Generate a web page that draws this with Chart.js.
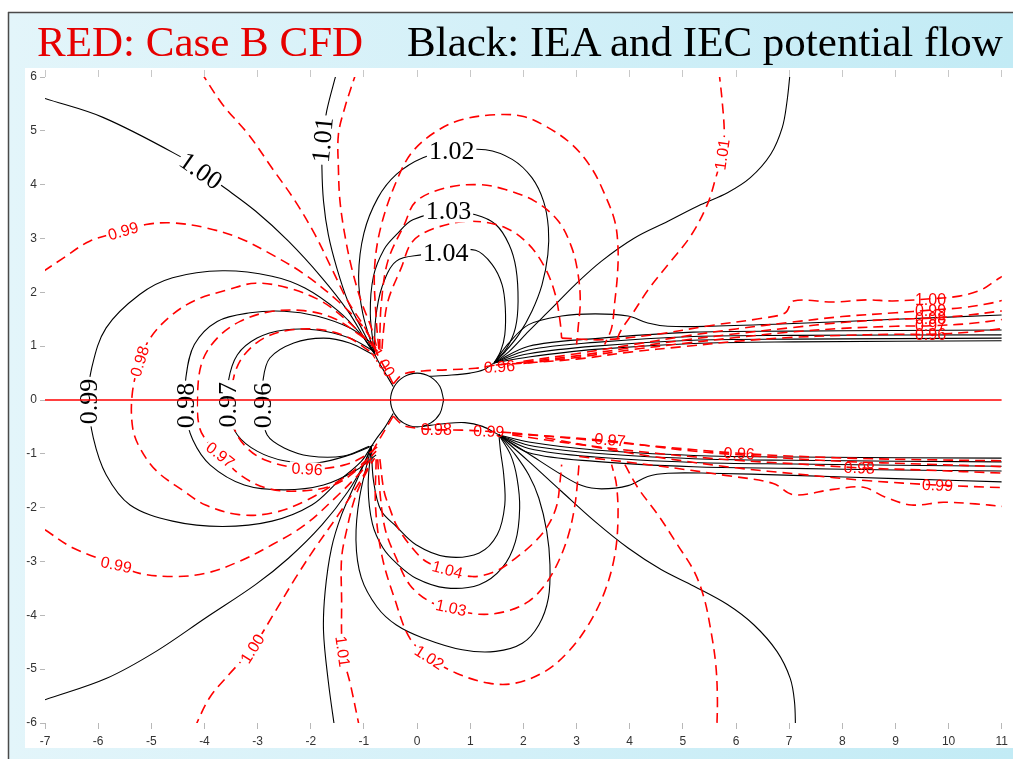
<!DOCTYPE html>
<html>
<head>
<meta charset="utf-8">
<script src="https://cdn.jsdelivr.net/npm/chart.js@4.4.1/dist/chart.umd.min.js"></script>
<style>
  body { margin: 0; background: #fff; }
  #wrap { position: relative; width: 1013px; height: 759px; }
  #plot { position: absolute; left: 0; top: 0; }
  .ttl { position: absolute; top: 20px; font-family: "Liberation Serif", serif; font-size: 43px; line-height: 43px; white-space: nowrap; }
</style>
</head>
<body>
<div id="wrap">
  <canvas id="plot" width="1013" height="759"></canvas>
  <div class="ttl" style="left:37px;color:#e60000">RED: Case B CFD</div>
  <div class="ttl" style="left:407px;color:#000">Black: IEA and IEC potential flow</div>
</div>
<script>
// --- axis ranges / ticks ---
const xRange = [-7, 11];
const yRange = [-6, 6];
const zeroLineX = [-7, 11];

// --- Black: potential flow contours ---
const pf100Up = [[-7.0,5.60],[-5.91,5.25],[-4.47,4.53],[-4.07,4.26],[-3.66,3.97],[-3.04,3.51],[-2.42,2.95],[-1.79,2.27],[-1.30,1.65],[-0.95,1.08],[-0.80,0.86]];
const pf101UpL = [[-1.51,6.1],[-1.70,5.37],[-1.78,4.83],[-1.79,4.31],[-1.76,3.69],[-1.67,3.07],[-1.51,2.45],[-1.30,1.83],[-1.05,1.34],[-0.80,0.86]];
const pf102Up = [[-0.80,0.86],[-1.02,1.6],[-1.10,2.3],[-1.0,3.1],[-0.74,3.75],[-0.39,4.19],[0.11,4.50],[0.65,4.62],[1.29,4.65],[1.79,4.47],[2.16,4.13],[2.38,3.69],[2.47,3.20],[2.46,2.70],[2.35,2.14],[2.16,1.65],[1.91,1.21],[1.66,0.90],[1.45,0.69]];
const pf103Up = [[-0.80,0.86],[-0.88,1.6],[-0.82,2.3],[-0.62,2.8],[-0.39,3.07],[-0.08,3.35],[0.59,3.50],[1.10,3.44],[1.48,3.26],[1.73,2.89],[1.86,2.45],[1.90,1.83],[1.85,1.34],[1.69,0.97],[1.45,0.69]];
const pf104Up = [[-0.80,0.86],[-0.78,1.5],[-0.66,2.1],[-0.39,2.58],[0.11,2.70],[0.54,2.76],[1.10,2.78],[1.41,2.52],[1.60,2.14],[1.66,1.71],[1.65,1.21],[1.57,0.90],[1.45,0.69]];
const pf101UpR = [[7.02,6.1],[6.96,5.55],[6.87,5.06],[6.65,4.56],[6.27,4.13],[5.84,3.85],[5.34,3.63],[4.72,3.32],[4.09,3.01],[3.47,2.58],[2.97,2.14],[2.54,1.71],[2.10,1.28],[1.73,0.90],[1.45,0.69]];
const pf100UpR = [[1.45,0.69],[1.72,1.05],[2.10,1.40],[2.72,1.56],[3.35,1.60],[3.97,1.56],[4.34,1.43],[4.72,1.37],[5.53,1.37],[7.08,1.42],[9.0,1.50],[11.0,1.58]];
const pf099UpR = [[1.45,0.69],[2.1,1.0],[3.35,1.14],[5.2,1.26],[7.08,1.28],[9.0,1.29],[11.0,1.30]];
const pf098UpR = [[1.45,0.69],[2.1,0.93],[3.35,1.07],[5.2,1.18],[7.08,1.20],[11.0,1.21]];
const pf097UpR = [[1.45,0.69],[2.1,0.86],[3.35,1.0],[5.2,1.11],[7.08,1.13],[11.0,1.15]];
const pf096UpR = [[1.45,0.69],[2.1,0.80],[3.35,0.94],[5.2,1.05],[7.08,1.08],[11.0,1.10]];
const pfNeckUp = [[0.23,0.44],[0.6,0.46],[1.0,0.50],[1.25,0.56],[1.45,0.69]];
const pfNeckUpL = [[-0.45,0.25],[-0.58,0.47],[-0.72,0.70],[-0.80,0.86]];
const pf099Ups = [[-0.80,0.86],[-1.05,1.21],[-1.48,1.65],[-2.11,2.08],[-2.73,2.30],[-3.66,2.40],[-4.60,2.27],[-5.22,1.96],[-5.85,1.34],[-6.12,0.6],[-6.18,0],[-6.09,-0.71],[-5.85,-1.39],[-5.40,-1.95],[-4.60,-2.25],[-3.66,-2.35],[-2.73,-2.25],[-1.98,-1.95],[-1.48,-1.51],[-1.05,-1.14],[-0.86,-0.86]];
const pf098Ups = [[-0.82,1.03],[-1.27,1.34],[-1.89,1.56],[-2.50,1.65],[-3.14,1.62],[-3.76,1.46],[-4.19,1.03],[-4.35,0.41],[-4.36,-0.2],[-4.22,-0.74],[-3.89,-1.21],[-3.25,-1.58],[-2.50,-1.67],[-1.76,-1.58],[-1.14,-1.30],[-0.77,-1.02]];
const pf097Ups = [[-0.82,0.91],[-1.27,1.15],[-1.89,1.30],[-2.50,1.30],[-3.01,1.15],[-3.38,0.84],[-3.55,0.35],[-3.56,-0.2],[-3.38,-0.65],[-3.01,-0.95],[-2.50,-1.13],[-1.89,-1.17],[-1.27,-1.02],[-0.82,-0.84]];
const pf096Ups = [[-0.82,0.84],[-1.27,1.06],[-1.76,1.15],[-2.32,1.06],[-2.77,0.78],[-2.90,0.35],[-2.91,-0.2],[-2.82,-0.65],[-2.50,-0.89],[-2.02,-1.04],[-1.38,-1.04],[-0.90,-0.86]];
const pf100Lo = [[-7.0,-5.57],[-5.84,-5.17],[-4.91,-4.67],[-3.98,-4.05],[-3.04,-3.43],[-2.42,-2.94],[-1.79,-2.32],[-1.30,-1.70],[-0.98,-1.15],[-0.86,-0.86]];
const pf101LoL = [[-1.55,-6.1],[-1.67,-5.23],[-1.76,-4.30],[-1.73,-3.56],[-1.61,-2.75],[-1.42,-2.13],[-1.17,-1.57],[-0.97,-1.12],[-0.86,-0.86]];
const pf102Lo = [[-0.86,-0.86],[-1.08,-1.8],[-1.15,-2.6],[-1.05,-3.3],[-0.75,-3.85],[-0.39,-4.18],[0.11,-4.42],[0.85,-4.64],[1.48,-4.67],[1.98,-4.52],[2.29,-4.18],[2.47,-3.68],[2.50,-3.06],[2.44,-2.44],[2.29,-1.82],[2.10,-1.39],[1.85,-1.02],[1.54,-0.65]];
const pf103Lo = [[-0.86,-0.86],[-0.92,-1.6],[-0.84,-2.3],[-0.64,-2.75],[-0.39,-3.03],[-0.02,-3.31],[0.54,-3.49],[1.17,-3.43],[1.60,-3.12],[1.85,-2.63],[1.93,-2.01],[1.88,-1.45],[1.76,-1.02],[1.54,-0.65]];
const pf104Lo = [[-0.86,-0.86],[-0.82,-1.5],[-0.68,-2.05],[-0.39,-2.35],[-0.02,-2.69],[0.54,-2.91],[1.17,-2.84],[1.51,-2.50],[1.65,-1.95],[1.63,-1.39],[1.57,-0.95],[1.54,-0.65]];
const pf101LoR = [[1.54,-0.65],[2.10,-1.14],[2.72,-1.70],[3.35,-2.26],[3.97,-2.75],[4.59,-3.15],[5.21,-3.46],[5.84,-3.80],[6.34,-4.18],[6.77,-4.67],[7.02,-5.17],[7.10,-5.6],[7.12,-6.1]];
const pf100LoR = [[1.54,-0.65],[2.1,-1.0],[2.72,-1.39],[3.10,-1.59],[3.47,-1.65],[3.97,-1.59],[4.34,-1.42],[4.72,-1.36],[5.5,-1.36],[7.08,-1.40],[9.0,-1.46],[11.0,-1.52]];
const pf099LoR = [[1.54,-0.65],[2.1,-0.98],[3.35,-1.14],[5.2,-1.24],[7.08,-1.27],[9.0,-1.30],[11.0,-1.32]];
const pf098LoR = [[1.54,-0.65],[2.1,-0.90],[3.35,-1.06],[5.2,-1.16],[7.08,-1.19],[11.0,-1.23]];
const pf097LoR = [[1.54,-0.65],[2.1,-0.84],[3.35,-0.99],[5.2,-1.09],[7.08,-1.12],[11.0,-1.15]];
const pf096LoR = [[1.54,-0.65],[2.1,-0.78],[3.35,-0.93],[5.2,-1.03],[7.08,-1.06],[11.0,-1.08]];
const pfNeckLo = [[0.1,-0.49],[0.5,-0.44],[0.9,-0.42],[1.23,-0.49],[1.54,-0.65]];
const pfNeckLoL = [[-0.45,-0.25],[-0.60,-0.50],[-0.75,-0.70],[-0.86,-0.86]];
const towerCircle = [[0.5,0],[0.43,0.25],[0.25,0.43],[0,0.5],[-0.25,0.43],[-0.43,0.25],[-0.5,0],[-0.43,-0.25],[-0.25,-0.43],[0,-0.5],[0.25,-0.43],[0.43,-0.25],[0.5,0]];

// --- Red: Case B CFD contours ---
const cfd099Up = [[-7.03,2.39],[-6.65,2.64],[-6.16,2.95],[-5.53,3.14],[-5.10,3.26],[-4.60,3.29],[-3.98,3.20],[-3.35,3.01],[-2.73,2.70],[-2.11,2.33],[-1.48,1.83],[-1.05,1.40],[-0.80,1.03]];
const cfd099Lo = [[-7.0,-2.41],[-6.47,-2.75],[-5.66,-3.06],[-5.22,-3.22],[-4.60,-3.28],[-3.98,-3.22],[-3.35,-3.0],[-2.73,-2.69],[-2.11,-2.32],[-1.48,-1.76],[-1.05,-1.33],[-0.86,-1.08]];
const cfd098 = [[-0.74,0.90],[-0.92,1.09],[-1.30,1.46],[-1.79,1.83],[-2.42,2.08],[-3.04,2.17],[-3.55,2.05],[-4.18,1.85],[-4.65,1.55],[-5.02,1.15],[-5.22,0.72],[-5.36,0.1],[-5.35,-0.52],[-5.21,-0.9],[-4.90,-1.32],[-4.42,-1.67],[-3.98,-1.95],[-3.35,-2.13],[-2.73,-2.10],[-2.11,-1.88],[-1.48,-1.51],[-1.05,-1.20],[-0.86,-1.02]];
const cfd097 = [[-0.77,0.97],[-1.08,1.21],[-1.57,1.52],[-2.13,1.66],[-2.77,1.64],[-3.33,1.46],[-3.76,1.15],[-4.04,0.72],[-4.13,0.1],[-4.09,-0.52],[-3.89,-0.84],[-3.70,-1.02],[-3.33,-1.39],[-2.82,-1.64],[-2.21,-1.69],[-1.57,-1.58],[-1.08,-1.26],[-0.77,-0.95]];
const cfd096 = [[-0.90,0.91],[-1.27,1.15],[-1.76,1.30],[-2.39,1.30],[-2.88,1.15],[-3.25,0.84],[-3.44,0.46],[-3.48,0],[-3.44,-0.52],[-3.20,-0.89],[-2.82,-1.13],[-2.07,-1.28],[-1.38,-1.21],[-0.95,-1.02],[-0.71,-0.84]];
const cfd100Up = [[-4.07,6.1],[-3.66,5.49],[-3.17,4.93],[-2.73,4.31],[-2.29,3.69],[-1.92,3.07],[-1.61,2.45],[-1.30,1.83],[-0.98,1.34],[-0.78,0.95]];
const cfd100Lo = [[-4.19,-6.1],[-3.91,-5.54],[-3.54,-5.10],[-3.10,-4.61],[-2.67,-3.93],[-2.29,-3.31],[-1.92,-2.75],[-1.48,-2.13],[-1.11,-1.57],[-0.86,-1.14]];
const cfd101Up = [[-1.14,6.1],[-1.36,5.43],[-1.48,4.93],[-1.48,4.31],[-1.45,3.69],[-1.36,3.07],[-1.23,2.45],[-1.05,1.83],[-0.86,1.34],[-0.75,0.95]];
const cfd101Lo = [[-1.08,-6.1],[-1.25,-5.3],[-1.40,-4.67],[-1.42,-3.68],[-1.42,-2.94],[-1.33,-2.44],[-1.17,-1.82],[-0.98,-1.39],[-0.80,-1.08]];
const cfd102Up = [[-0.72,0.95],[-0.77,1.52],[-0.80,2.45],[-0.67,3.26],[-0.36,4.13],[-0.08,4.62],[0.36,4.99],[0.85,5.21],[1.48,5.30],[1.98,5.27],[2.41,5.09],[2.91,4.75],[3.28,4.31],[3.53,3.82],[3.72,3.32],[3.78,2.83],[3.77,2.33],[3.72,1.83],[3.66,1.34],[3.53,1.03]];
const cfd103Up = [[-0.70,0.95],[-0.70,1.21],[-0.67,1.83],[-0.55,2.58],[-0.24,3.26],[-0.02,3.69],[0.54,3.94],[1.17,4.0],[1.66,3.91],[2.22,3.69],[2.66,3.32],[2.91,2.83],[3.03,2.33],[3.07,1.83],[3.03,1.34],[3.0,1.03]];
const cfd104Up = [[-0.66,0.95],[-0.64,1.21],[-0.55,1.83],[-0.30,2.45],[-0.08,2.95],[0.36,3.20],[1.04,3.32],[1.66,3.20],[2.10,2.89],[2.41,2.45],[2.60,1.96],[2.69,1.46],[2.72,1.15]];
const cfd101UpR = [[5.68,6.1],[5.74,5.55],[5.78,4.93],[5.74,4.56],[5.62,4.13],[5.46,3.63],[5.15,3.05],[4.75,2.55],[4.35,2.05],[4.05,1.6],[3.84,1.30],[3.72,1.03]];
const cfd104Lo = [[-0.70,-1.1],[-0.62,-1.7],[-0.50,-2.05],[-0.39,-2.32],[-0.14,-2.69],[0.17,-3.0],[0.57,-3.15],[1.04,-3.28],[1.48,-3.18],[1.85,-2.94],[2.22,-2.63],[2.47,-2.32],[2.63,-1.95],[2.69,-1.51],[2.72,-1.20]];
const cfd103Lo = [[-0.74,-1.1],[-0.70,-1.7],[-0.60,-2.4],[-0.39,-2.94],[-0.14,-3.43],[0.23,-3.74],[0.64,-3.87],[1.17,-3.98],[1.66,-3.93],[2.10,-3.74],[2.41,-3.43],[2.66,-3.0],[2.85,-2.50],[2.97,-1.95],[3.03,-1.39],[3.05,-1.14]];
const cfd102Lo = [[-0.77,-1.1],[-0.78,-2.0],[-0.66,-2.9],[-0.42,-3.7],[-0.14,-4.42],[0.23,-4.78],[0.73,-5.07],[1.35,-5.26],[1.85,-5.26],[2.41,-5.04],[2.85,-4.67],[3.22,-4.18],[3.53,-3.56],[3.72,-2.88],[3.78,-2.19],[3.75,-1.57],[3.66,-1.20]];
const cfd101LoR = [[3.91,-1.20],[4.16,-1.64],[4.53,-2.13],[4.90,-2.69],[5.21,-3.18],[5.40,-3.68],[5.53,-4.30],[5.62,-4.92],[5.65,-5.54],[5.64,-6.1]];
const cfdNeckUp = [[-0.45,0.30],[-0.26,0.48],[0.11,0.54],[0.54,0.56],[1.10,0.59],[1.48,0.65],[2.0,0.70]];
const cfdNeckUpL = [[-0.45,0.30],[-0.58,0.55],[-0.71,0.78],[-0.80,0.95]];
const cfdNeckLo = [[-0.45,-0.30],[-0.26,-0.47],[-0.02,-0.52],[0.36,-0.55],[0.85,-0.56],[1.29,-0.58],[1.79,-0.61]];
const cfdNeckLoL = [[-0.45,-0.30],[-0.60,-0.55],[-0.75,-0.80],[-0.86,-1.0]];
const cfdWakeUp100 = [[2.72,1.15],[3.5,1.12],[4.5,1.22],[5.5,1.38],[6.5,1.52],[6.93,1.62],[7.08,1.84],[7.83,1.82],[8.45,1.86],[8.95,1.84],[9.66,1.88],[10.2,1.93],[10.6,2.04],[10.9,2.23],[11.05,2.32]];
const cfdWakeUp099 = [[2.0,0.72],[3.0,0.86],[4.0,1.02],[5.0,1.18],[6.0,1.32],[7.0,1.44],[8.0,1.55],[9.0,1.62],[9.66,1.67],[10.3,1.72],[10.8,1.80],[11.05,1.86]];
const cfdWakeUp098 = [[2.0,0.70],[3.0,0.82],[4.0,0.97],[5.0,1.11],[6.0,1.23],[7.0,1.34],[8.0,1.44],[9.0,1.50],[9.66,1.52],[10.3,1.57],[11.05,1.66]];
const cfdWakeUp097 = [[2.0,0.68],[3.0,0.79],[4.0,0.93],[5.0,1.05],[6.0,1.16],[7.0,1.26],[8.0,1.33],[9.0,1.37],[9.66,1.38],[10.4,1.42],[11.05,1.50]];
const cfdWakeUp096 = [[1.48,0.65],[3.0,0.76],[4.0,0.89],[5.0,0.99],[6.0,1.09],[7.0,1.16],[8.0,1.20],[9.0,1.22],[9.66,1.22],[10.4,1.26],[11.05,1.33]];
const cfdWakeLo096 = [[1.79,-0.61],[3.0,-0.72],[4.5,-0.86],[6.06,-0.99],[7.5,-1.06],[9.0,-1.10],[11.05,-1.13]];
const cfdWakeLo097 = [[1.79,-0.63],[2.6,-0.68],[3.63,-0.76],[5.0,-0.93],[6.5,-1.05],[8.0,-1.14],[9.5,-1.19],[11.05,-1.24]];
const cfdWakeLo098 = [[1.79,-0.65],[3.0,-0.82],[4.5,-0.99],[6.0,-1.12],[7.2,-1.19],[8.32,-1.26],[9.5,-1.30],[11.05,-1.36]];
const cfdWakeLo099 = [[2.41,-0.70],[3.5,-0.90],[4.5,-1.06],[6.0,-1.26],[7.2,-1.38],[8.5,-1.50],[9.79,-1.58],[11.05,-1.63]];
const cfdWakeLo100 = [[3.05,-1.05],[4.5,-1.22],[5.8,-1.40],[6.7,-1.55],[7.08,-1.76],[7.83,-1.66],[8.4,-1.62],[8.8,-1.80],[9.3,-1.95],[9.9,-1.90],[10.5,-1.93],[11.05,-1.98]];

// --- contour labels: [text, x, y, rotation deg, white box] ---
const blackLabels = [
  ['1.00', -4.07, 4.25, 35, true], ['1.01', -1.77, 4.83, -85, true],
  ['1.02', 0.65, 4.62, 0, true], ['1.03', 0.59, 3.50, 0, true], ['1.04', 0.54, 2.73, 0, true],
  ['0.99', -6.16, -0.03, -90, true], ['0.98', -4.35, -0.10, -90, true],
  ['0.97', -3.55, -0.09, -90, true], ['0.96', -2.90, -0.10, -90, true]
];
const redLabels = [
  ['0.99', -5.53, 3.14, -16, true], ['0.98', -5.22, 0.72, -73, true], ['0.99', -5.66, -3.06, 12, true],
  ['1.00', -3.10, -4.62, -58, true], ['1.01', -1.40, -4.67, 82, true], ['0.97', -3.70, -1.02, 38, true],
  ['0.96', -2.07, -1.28, 3, true], ['1.00', -0.64, 0.70, 58, false], ['1.01', 5.74, 4.56, -82, true],
  ['1.04', 0.57, -3.15, 15, true], ['1.03', 0.64, -3.86, 12, true], ['1.02', 0.23, -4.78, 33, true],
  ['0.98', 0.36, -0.55, 0, false], ['0.99', 1.35, -0.58, 2, false], ['0.97', 3.63, -0.74, 5, false],
  ['0.96', 6.06, -0.99, 3, false], ['0.98', 8.32, -1.26, 2, false], ['0.99', 9.79, -1.58, 2, false],
  ['1.00', 9.66, 1.86, 0, false], ['0.99', 9.66, 1.67, 0, false], ['0.98', 9.66, 1.52, 0, false],
  ['0.97', 9.66, 1.38, 0, false], ['0.96', 9.66, 1.21, 0, false], ['0.96', 1.55, 0.62, -4, false]
];

const blackLines = [pf100Up, pf101UpL, pf102Up, pf103Up, pf104Up, pf101UpR, pf100UpR, pf099UpR, pf098UpR, pf097UpR, pf096UpR,
  pfNeckUp, pfNeckUpL, pf099Ups, pf098Ups, pf097Ups, pf096Ups, pf100Lo, pf101LoL, pf102Lo, pf103Lo, pf104Lo,
  pf101LoR, pf100LoR, pf099LoR, pf098LoR, pf097LoR, pf096LoR, pfNeckLo, pfNeckLoL, towerCircle];
const redLines = [cfd099Up, cfd099Lo, cfd098, cfd097, cfd096, cfd100Up, cfd100Lo, cfd101Up, cfd101Lo, cfd102Up, cfd103Up, cfd104Up,
  cfd101UpR, cfd104Lo, cfd103Lo, cfd102Lo, cfd101LoR, cfdNeckUp, cfdNeckUpL, cfdNeckLo, cfdNeckLoL,
  cfdWakeUp100, cfdWakeUp099, cfdWakeUp098, cfdWakeUp097, cfdWakeUp096,
  cfdWakeLo096, cfdWakeLo097, cfdWakeLo098, cfdWakeLo099, cfdWakeLo100];

const toPts = arr => arr.map(p => ({ x: p[0], y: p[1] }));

const datasets = [];
redLines.forEach(l => datasets.push({
  data: toPts(l), showLine: true, pointRadius: 0, borderColor: '#ff0000', borderWidth: 1.6,
  borderDash: [10, 6], tension: 0.35, xAxisID: 'x', yAxisID: 'y'
}));
blackLines.forEach(l => datasets.push({
  data: toPts(l), showLine: true, pointRadius: 0, borderColor: '#000', borderWidth: 1.1,
  tension: 0.35, xAxisID: 'x', yAxisID: 'y'
}));

// --- slide background: blue header band, white plot panel ---
const slideBackground = {
  id: 'slideBackground',
  beforeDraw(chart) {
    const ctx = chart.ctx;
    ctx.save();
    ctx.fillStyle = '#fff';
    ctx.fillRect(0, 0, 1013, 759);
    const g = ctx.createLinearGradient(8, 0, 1013, 0);
    g.addColorStop(0, '#e3f5fa');
    g.addColorStop(0.5, '#d3f0f8');
    g.addColorStop(1, '#c2ebf5');
    ctx.fillStyle = g;
    ctx.fillRect(8, 12, 1005, 747);
    ctx.fillStyle = '#fff';
    ctx.fillRect(25, 68, 988, 680);
    ctx.strokeStyle = '#4a4a4a';
    ctx.lineWidth = 1.5;
    ctx.beginPath();
    ctx.moveTo(8, 12.5); ctx.lineTo(1013, 12.5);
    ctx.moveTo(8.5, 12); ctx.lineTo(8.5, 759);
    ctx.stroke();
    ctx.restore();
  }
};

// --- inline contour labels + the red centre line ---
const contourLabels = {
  id: 'contourLabels',
  afterDatasetsDraw(chart) {
    const { ctx, chartArea } = chart;
    const xs = chart.scales.x, ys = chart.scales.y;
    ctx.save();
    ctx.beginPath();
    ctx.rect(chartArea.left, chartArea.top, chartArea.width, chartArea.height);
    ctx.clip();
    const drawSet = (list, font, color) => {
      ctx.font = font;
      ctx.textAlign = 'center';
      ctx.textBaseline = 'middle';
      list.forEach(([t, x, y, rot, box]) => {
        ctx.save();
        ctx.translate(xs.getPixelForValue(x), ys.getPixelForValue(y));
        ctx.rotate(rot * Math.PI / 180);
        const w = ctx.measureText(t).width;
        const h = parseInt(font, 10);
        if (box) {
          ctx.fillStyle = '#fff';
          ctx.fillRect(-w / 2 - 2, -h * 0.42, w + 4, h * 0.84);
        }
        ctx.fillStyle = color;
        ctx.fillText(t, 0, 1);
        ctx.restore();
      });
    };
    drawSet(blackLabels, '26px "Liberation Serif"', '#000');
    drawSet(redLabels, '16px "Liberation Sans"', '#ff0000');

    ctx.strokeStyle = '#ff0000';
    ctx.lineWidth = 1.3;
    ctx.beginPath();
    ctx.moveTo(xs.getPixelForValue(zeroLineX[0]), ys.getPixelForValue(0));
    ctx.lineTo(xs.getPixelForValue(zeroLineX[1]), ys.getPixelForValue(0));
    ctx.stroke();
    ctx.restore();
  }
};

const tickFont = { family: '"Liberation Sans", Arial, sans-serif', size: 12 };

new Chart(document.getElementById('plot'), {
  type: 'scatter',
  data: { datasets },
  options: {
    responsive: false,
    animation: false,
    events: [],
    layout: { padding: { left: 25, right: 5, top: 70, bottom: 14 } },
    plugins: { legend: { display: false }, tooltip: { enabled: false } },
    scales: {
      x: {
        type: 'linear', position: 'bottom', min: xRange[0], max: xRange[1],
        ticks: { stepSize: 1, font: tickFont, color: '#333', padding: 5, maxRotation: 0 },
        grid: { drawOnChartArea: false, drawTicks: true, tickLength: 6, color: '#b8b8b8' },
        border: { display: false },
        afterFit: s => { s.height = 22; }
      },
      x2: {
        type: 'linear', position: 'top', min: xRange[0], max: xRange[1],
        ticks: { stepSize: 1, display: false },
        grid: { drawOnChartArea: false, drawTicks: true, tickLength: 7, color: '#c8c8c8' },
        border: { display: false },
        afterFit: s => { s.height = 7; }
      },
      y: {
        type: 'linear', position: 'left', min: yRange[0], max: yRange[1],
        ticks: { stepSize: 1, font: tickFont, color: '#333', padding: 3 },
        grid: { drawOnChartArea: false, drawTicks: true, tickLength: 5, color: '#b8b8b8' },
        border: { display: false },
        afterFit: s => { s.width = 20; }
      }
    }
  },
  plugins: [slideBackground, contourLabels]
});
</script>
</body>
</html>
